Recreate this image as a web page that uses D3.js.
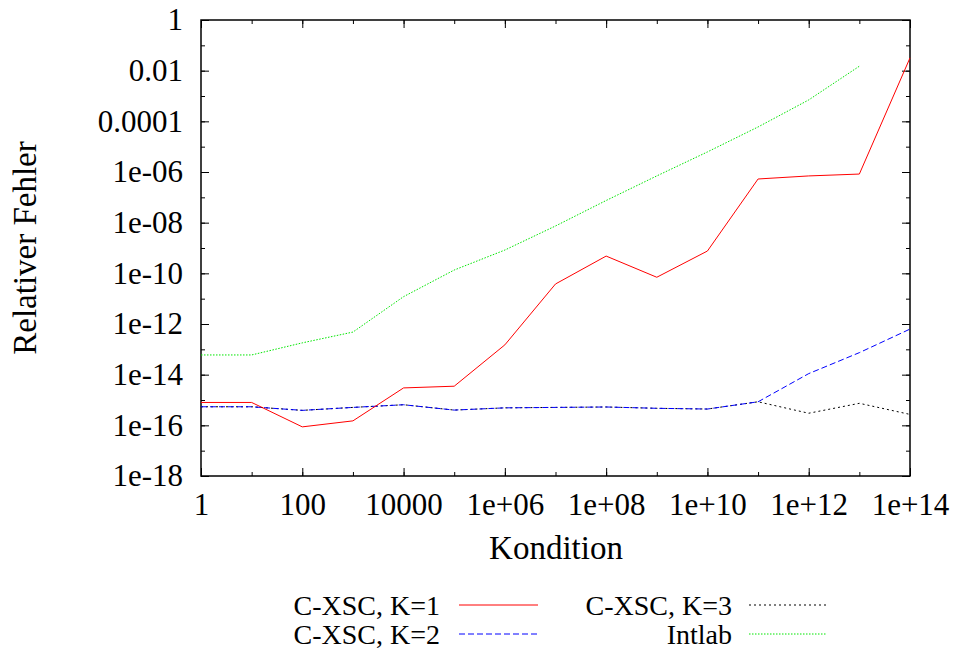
<!DOCTYPE html>
<html>
<head>
<meta charset="utf-8">
<script src="https://cdn.jsdelivr.net/npm/d3@7"></script>
<style>
    body { margin: 0; background: #fff; }
    text { font-family: 'Liberation Serif'; font-size: 31px; }
    .axis path { display: none; }
    .axis line { stroke: #000; stroke-width: 1; }
</style>
</head>
<body>
<div id="chart"></div>
<script>
// Kondition (x values)
var conditions = [1, 10, 100, 1e3, 1e4, 1e5, 1e6, 1e7, 1e8, 1e9, 1e10, 1e11, 1e12, 1e13, 1e14];

// relative error per series
var cxscK1 = [8e-16, 8e-16, 8.7e-17, 1.5e-16, 3e-15, 3.5e-15, 1.5e-13, 3.8e-11, 4.8e-10, 7e-11, 7.6e-10, 5.3e-7, 7e-7, 8.3e-7, 0.032];
var cxscK2 = [5.4e-16, 5.4e-16, 3.9e-16, 5.1e-16, 6.5e-16, 4e-16, 4.9e-16, 5.1e-16, 5.3e-16, 4.7e-16, 4.4e-16, 8.5e-16, 1.1e-14, 7.4e-14, 6.3e-13];
var cxscK3 = [5.4e-16, 5.4e-16, 3.9e-16, 5.1e-16, 6.5e-16, 4e-16, 4.9e-16, 5.1e-16, 5.3e-16, 4.7e-16, 4.4e-16, 8.5e-16, 3e-16, 7.4e-16, 2.7e-16];
var intlab = [6e-14, 6e-14, 1.8e-13, 4.8e-13, 1.2e-11, 1.35e-10, 8.3e-10, 7.4e-9, 7.5e-8, 7e-7, 6.2e-6, 6e-5, 7e-4, 0.015];

// tick labels
var xTickValues = [1, 100, 1e4, 1e6, 1e8, 1e10, 1e12, 1e14];
var xTickLabels = ["1", "100", "10000", "1e+06", "1e+08", "1e+10", "1e+12", "1e+14"];
var yTickValues = [1, 1e-2, 1e-4, 1e-6, 1e-8, 1e-10, 1e-12, 1e-14, 1e-16, 1e-18];
var yTickLabels = ["1", "0.01", "0.0001", "1e-06", "1e-08", "1e-10", "1e-12", "1e-14", "1e-16", "1e-18"];

var seriesNames = ["C-XSC, K=1", "C-XSC, K=2", "C-XSC, K=3", "Intlab"];
var seriesColors = ["#ff0000", "#0000ff", "#000000", "#00e600"];
var seriesDash = [null, "6,3", "2,3", "1.5,1.5"];

var margin = {top: 20, right: 52, bottom: 174, left: 201};
var width = 962 - margin.left - margin.right;
var height = 650 - margin.top - margin.bottom;

var svg = d3.select("#chart").append("svg")
    .attr("width", 962)
    .attr("height", 650)
    .attr("font-family", "Liberation Serif");

var g = svg.append("g")
    .attr("transform", "translate(" + margin.left + "," + margin.top + ")");

var x = d3.scaleLog().domain([1, 1e14]).range([0, width]);
var y = d3.scaleLog().domain([1e-18, 1]).range([height, 0]);

var xDecades = d3.range(0, 15).map(function(i) { return Math.pow(10, i); });
var yDecades = d3.range(-18, 1).map(function(i) { return Math.pow(10, i); });

// minor ticks (every decade)
g.append("g").attr("class", "axis")
    .call(d3.axisLeft(y).tickValues(yDecades).tickSize(-4).tickFormat(""));
g.append("g").attr("class", "axis")
    .attr("transform", "translate(" + width + ",0)")
    .call(d3.axisRight(y).tickValues(yDecades).tickSize(-4).tickFormat(""));
g.append("g").attr("class", "axis")
    .attr("transform", "translate(0," + height + ")")
    .call(d3.axisBottom(x).tickValues(xDecades).tickSize(-4).tickFormat(""));
g.append("g").attr("class", "axis")
    .call(d3.axisTop(x).tickValues(xDecades).tickSize(-4).tickFormat(""));

// major ticks with labels
g.append("g").attr("class", "axis")
    .call(d3.axisLeft(y).tickValues(yTickValues).tickSize(-8).tickPadding(18)
        .tickFormat(function(d, i) { return yTickLabels[i]; }));
g.append("g").attr("class", "axis")
    .attr("transform", "translate(" + width + ",0)")
    .call(d3.axisRight(y).tickValues(yTickValues).tickSize(-8).tickFormat(""));
g.append("g").attr("class", "axis")
    .attr("transform", "translate(0," + height + ")")
    .call(d3.axisBottom(x).tickValues(xTickValues).tickSize(-8).tickPadding(17)
        .tickFormat(function(d, i) { return xTickLabels[i]; }));
g.append("g").attr("class", "axis")
    .call(d3.axisTop(x).tickValues(xTickValues).tickSize(-8).tickFormat(""));

// d3 axis sets sans-serif 10 on its groups, take that off
svg.selectAll(".axis")
    .attr("font-family", null)
    .attr("font-size", null);
svg.selectAll(".axis text").attr("fill", "#000");

// frame
g.append("rect")
    .attr("width", width)
    .attr("height", height)
    .attr("fill", "none")
    .attr("stroke", "#000")
    .attr("stroke-width", 1.5);

// lines
var allSeries = [cxscK1, cxscK2, cxscK3, intlab];
var drawOrder = [2, 1, 0, 3];

var line = d3.line()
    .x(function(d) { return x(d[0]); })
    .y(function(d) { return y(d[1]); });

drawOrder.forEach(function(s) {
    var pts = allSeries[s].map(function(v, i) { return [conditions[i], v]; });
    g.append("path")
        .datum(pts)
        .attr("fill", "none")
        .attr("stroke", seriesColors[s])
        .attr("stroke-width", 1)
        .attr("stroke-dasharray", seriesDash[s])
        .attr("d", line);
});

// axis titles
svg.append("text")
    .attr("transform", "translate(25,248) rotate(-90)")
    .attr("text-anchor", "middle")
    .attr("dominant-baseline", "central")
    .style("font-size", "33px")
    .text("Relativer Fehler");

svg.append("text")
    .attr("x", 556)
    .attr("y", 548)
    .attr("text-anchor", "middle")
    .attr("dominant-baseline", "central")
    .style("font-size", "33px")
    .text("Kondition");

// legend: two columns, two rows
var legendPos = [
    {tx: 440, lx1: 459, lx2: 538, y: 605},
    {tx: 440, lx1: 459, lx2: 538, y: 634},
    {tx: 732, lx1: 749, lx2: 826, y: 605},
    {tx: 732, lx1: 749, lx2: 826, y: 634}
];

var legend = svg.append("g");
seriesNames.forEach(function(name, i) {
    var p = legendPos[i];
    legend.append("text")
        .attr("x", p.tx)
        .attr("y", p.y)
        .attr("text-anchor", "end")
        .attr("dominant-baseline", "central")
        .style("font-size", "28px")
        .text(name);
    legend.append("line")
        .attr("x1", p.lx1)
        .attr("x2", p.lx2)
        .attr("y1", p.y)
        .attr("y2", p.y)
        .attr("stroke", seriesColors[i])
        .attr("stroke-width", 1)
        .attr("stroke-dasharray", seriesDash[i]);
});
</script>
</body>
</html>
